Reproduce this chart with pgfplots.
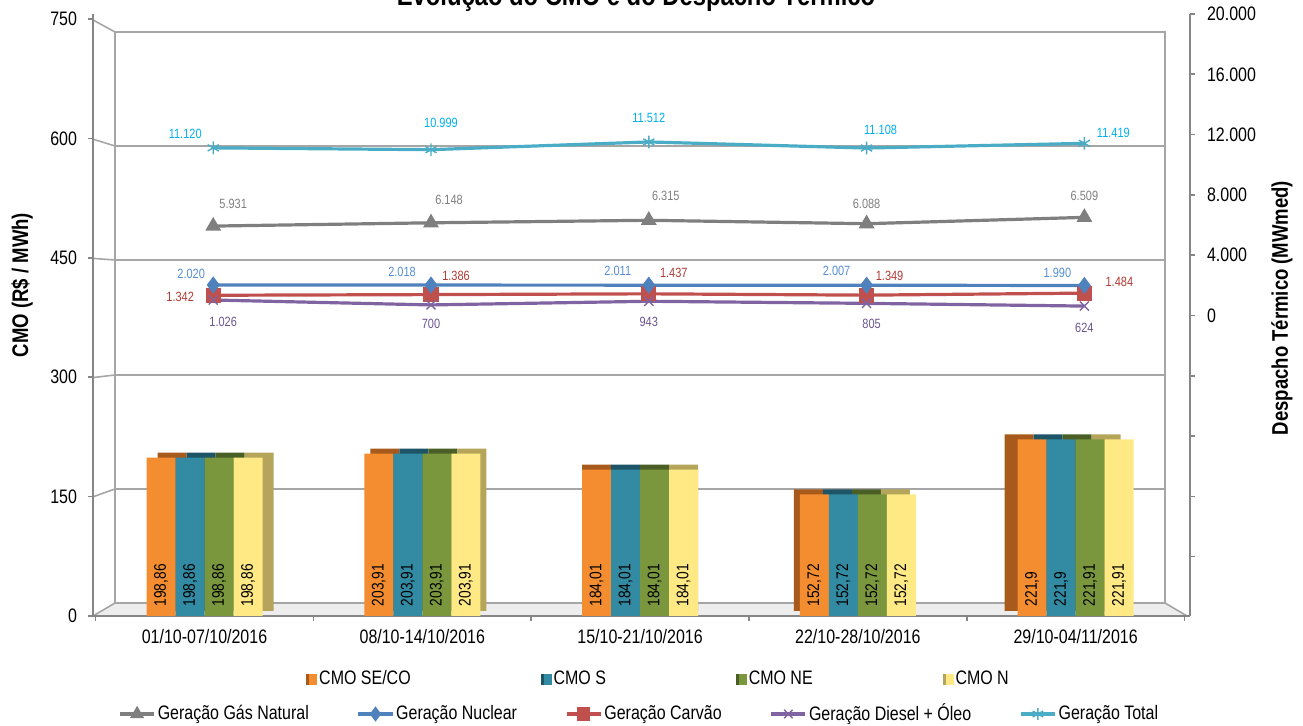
\documentclass[border=0pt]{standalone}
\usepackage{pgfplots}
\pgfplotsset{compat=1.18}
\usepackage{pgfplotstable}
\usepackage{fontspec}
\setmainfont{Liberation Sans}[FakeStretch=0.82]

\definecolor{orA}{HTML}{F38D30}\definecolor{orD}{HTML}{A85A1C}
\definecolor{blA}{HTML}{328AA3}\definecolor{blD}{HTML}{1D5566}
\definecolor{grA}{HTML}{7A973E}\definecolor{grD}{HTML}{4A5F25}
\definecolor{yeA}{HTML}{FFE984}\definecolor{yeD}{HTML}{B5A55A}
\definecolor{cTot}{HTML}{4BACC6}\definecolor{cTotL}{HTML}{00B0F0}
\definecolor{cGas}{HTML}{7F7F7F}
\definecolor{cNuc}{HTML}{4F81BD}\definecolor{cNucL}{HTML}{558ED5}
\definecolor{cCar}{HTML}{C0504D}\definecolor{cCarL}{HTML}{B03A35}
\definecolor{cDie}{HTML}{8064A2}\definecolor{cDieL}{HTML}{6A5590}
\definecolor{gridc}{HTML}{A6A6A6}\definecolor{axc}{HTML}{868686}\definecolor{floorc}{HTML}{EDEDED}

\pgfplotstableread{
x d y lbl
0 0.0505 198.86 198,86
1 0.0275 203.91 203,91
2 0 184.01 184,01
3 -0.0275 152.72 152,72
4 -0.06 221.9 221,9
}\seco
\pgfplotstableread{
x d y lbl
0 0.0505 198.86 198,86
1 0.0275 203.91 203,91
2 0 184.01 184,01
3 -0.0275 152.72 152,72
4 -0.06 221.9 221,9
}\cmos
\pgfplotstableread{
x d y lbl
0 0.0505 198.86 198,86
1 0.0275 203.91 203,91
2 0 184.01 184,01
3 -0.0275 152.72 152,72
4 -0.06 221.91 221,91
}\cmone
\pgfplotstableread{
x d y lbl
0 0.0505 198.86 198,86
1 0.0275 203.91 203,91
2 0 184.01 184,01
3 -0.0275 152.72 152,72
4 -0.06 221.91 221,91
}\cmon

\pgfplotstableread{
x y dx dy lbl
0.04 11120 -28 14 11.120
1.04 10999 10 27 10.999
2.04 11512 0 24 11.512
3.04 11108 14 18 11.108
4.04 11419 29 10 11.419
}\tot
\pgfplotstableread{
x y dx dy lbl
0.04 5931 20 22 5.931
1.04 6148 18 23 6.148
2.04 6315 17 24 6.315
3.04 6088 0 20 6.088
4.04 6509 0 21 6.509
}\gas
\pgfplotstableread{
x y dx dy lbl
0.04 2020 -22 11 2.020
1.04 2018 -29 13 2.018
2.04 2011 -31 14 2.011
3.04 2007 -30 14 2.007
4.04 1990 -27 13 1.990
}\nuc
\pgfplotstableread{
x y dx dy lbl
0.04 1342 -33 -2 1.342
1.04 1386 25 19 1.386
2.04 1437 25 21 1.437
3.04 1349 23 19 1.349
4.04 1484 35 11 1.484
}\car
\pgfplotstableread{
x y dx dy lbl
0.04 1026 10 -22 1.026
1.04 700 0 -19 700
2.04 943 0 -21 943
3.04 805 5 -21 805
4.04 624 0 -22 624
}\die

\newcommand{\tickfont}{\fontsize{9.75}{11}\selectfont}
\newcommand{\barfont}{\fontsize{8.4}{10}\selectfont}
\newcommand{\lblfont}{\fontsize{6.7}{8}\selectfont}

\pgfplotsset{
  frontbar/.style n args={2}{ybar, bar width=14.5pt, bar shift=#1, draw=none,
    fill=#2, forget plot,
    nodes near coords, point meta=explicit symbolic,
    visualization depends on=y \as \yv,
    every node near coord/.append style={font=\barfont, text=black, anchor=west,
      xshift={#1}, yshift={4.5pt-\yv*0.39733pt}, rotate=90, inner sep=0pt}},
  depthbar/.style n args={2}{ybar, bar width=14.5pt, bar shift=#1, draw=none,
    fill=#2, yshift=2.5pt, forget plot},
  lineplot/.style n args={2}{#1, line width=1.6pt, forget plot,
    nodes near coords, point meta=explicit symbolic,
    visualization depends on={\thisrow{dx} \as \dx},
    visualization depends on={\thisrow{dy} \as \dy},
    every node near coord/.append style={font=\lblfont, text=#2, anchor=center,
      xshift={\dx*0.5pt}, yshift={\dy*0.5pt}, inner sep=0pt}},
}

\begin{document}
\begin{tikzpicture}
\begin{scope}[x=0.5pt,y=-0.5pt,shift={(-93,-616)}]
  \fill[floorc] (93,616) -- (115,603) -- (1165,603) -- (1187,616) -- cycle;
  \draw[gridc, line width=0.8pt] (115,603) -- (115,32) -- (1165,32) -- (1165,603) -- (1187,616);
  \foreach \f/\b in {20/32,139.2/146,258.4/260,377.6/375,496.8/489,616/603} {
    \draw[gridc, line width=0.8pt] (93,\f) -- (115,\b) -- (1165,\b);
  }
\end{scope}

\begin{axis}[
  at={(0pt,0pt)}, anchor=south west,
  width=548.5pt, height=301pt, scale only axis,
  xmin=-0.512, xmax=4.525, ymin=0, ymax=756.3,
  axis y line*=left, axis x line*=bottom,
  axis line style={draw=axc, line width=0.8pt, -},
  tick style={draw=axc, line width=0.8pt},
  tick align=outside, major tick length=2.5pt,
  ytick={0,150,300,450,600,750},
  xtick={-0.5,0.5,1.5,2.5,3.5,4.5}, xticklabels={},
  extra x ticks={0,1,2,3,4},
  extra x tick labels={01/10-07/10/2016,08/10-14/10/2016,15/10-21/10/2016,22/10-28/10/2016,29/10-04/11/2016},
  extra x tick style={major tick length=0pt},
  xticklabel style={font=\tickfont, text=black, yshift=-3pt},
  yticklabel style={font=\tickfont, text=black, xshift=-2pt},
  /pgf/number format/assume math mode=true,
  legend style={at={(axis description cs:0.1942,-0.1047)}, anchor=west,
    draw=none, fill=none, font=\tickfont, inner sep=0pt,
    nodes={inner sep=1pt},
    /tikz/every even column/.append style={column sep=64pt}},
  legend columns=4,
]
\addplot[depthbar={-21.75pt}{orD}] table[x expr=\thisrow{x}+\thisrow{d}, y=y]{\seco};
\addplot[depthbar={-7.25pt}{blD}] table[x expr=\thisrow{x}+\thisrow{d}, y=y]{\cmos};
\addplot[depthbar={7.25pt}{grD}] table[x expr=\thisrow{x}+\thisrow{d}, y=y]{\cmone};
\addplot[depthbar={21.75pt}{yeD}] table[x expr=\thisrow{x}+\thisrow{d}, y=y]{\cmon};
\addplot[frontbar={-21.75pt}{orA}] table[x=x, y=y, meta=lbl]{\seco};
\addplot[frontbar={-7.25pt}{blA}] table[x=x, y=y, meta=lbl]{\cmos};
\addplot[frontbar={7.25pt}{grA}] table[x=x, y=y, meta=lbl]{\cmone};
\addplot[frontbar={21.75pt}{yeA}] table[x=x, y=y, meta=lbl]{\cmon};
\addlegendimage{legend image code/.code={\fill[orA] (0pt,-2.5pt) rectangle (5pt,2.5pt); \fill[orD] (0pt,-2.5pt) rectangle (1pt,2.5pt);}}
\addlegendentry{CMO SE/CO}
\addlegendimage{legend image code/.code={\fill[blA] (0pt,-2.5pt) rectangle (5pt,2.5pt); \fill[blD] (0pt,-2.5pt) rectangle (1pt,2.5pt);}}
\addlegendentry{CMO S}
\addlegendimage{legend image code/.code={\fill[grA] (0pt,-2.5pt) rectangle (5pt,2.5pt); \fill[grD] (0pt,-2.5pt) rectangle (1pt,2.5pt);}}
\addlegendentry{CMO NE}
\addlegendimage{legend image code/.code={\fill[yeA] (0pt,-2.5pt) rectangle (5pt,2.5pt); \fill[yeD] (0pt,-2.5pt) rectangle (1pt,2.5pt);}}
\addlegendentry{CMO N}
\end{axis}

\begin{axis}[
  at={(0pt,0pt)}, anchor=south west,
  width=548.5pt, height=301pt, scale only axis,
  xmin=-0.512, xmax=4.525, ymin=-19934, ymax=20000,
  axis y line*=right, axis x line=none,
  axis line style={draw=axc, line width=0.8pt, -},
  tick style={draw=axc, line width=0.8pt},
  tick align=outside, major tick length=2.5pt,
  ytick={-16000,-12000,-8000,-4000,0,4000,8000,12000,16000,20000},
  yticklabels={,,,,0,4.000,8.000,12.000,16.000,20.000},
  yticklabel style={font=\tickfont, text=black, xshift=2.5pt},
  /pgf/number format/assume math mode=true,
  legend style={at={(axis description cs:0.0228,-0.1628)}, anchor=west,
    draw=none, fill=none, font=\tickfont, inner sep=0pt,
    nodes={inner sep=1pt},
    /tikz/every even column/.append style={column sep=23pt}},
  legend columns=5,
]
\addplot[lineplot={cTot, mark=asterisk, mark size=3.2pt, mark options={line width=0.7pt}}{cTotL}] table[x=x,y=y,meta=lbl]{\tot};
\addplot[lineplot={cGas, mark=triangle*, mark size=3pt}{cGas}] table[x=x,y=y,meta=lbl]{\gas};
\addplot[lineplot={cCar, mark=square*, mark size=3pt}{cCarL}] table[x=x,y=y,meta=lbl]{\car};
\addplot[lineplot={cDie, mark=x, mark size=3.2pt, mark options={line width=0.7pt}}{cDieL}] table[x=x,y=y,meta=lbl]{\die};
\addplot[lineplot={cNuc, mark=diamond*, mark size=3pt}{cNucL}] table[x=x,y=y,meta=lbl]{\nuc};
\addlegendimage{cGas, line width=1.6pt, mark=triangle*, mark size=2.5pt}
\addlegendentry{Geração Gás Natural}
\addlegendimage{cNuc, line width=1.6pt, mark=diamond*, mark size=2.5pt}
\addlegendentry{Geração Nuclear}
\addlegendimage{cCar, line width=1.6pt, mark=square*, mark size=2.5pt}
\addlegendentry{Geração Carvão}
\addlegendimage{cDie, line width=1.6pt, mark=x, mark size=3pt, mark options={line width=0.7pt}}
\addlegendentry{Geração Diesel + Óleo}
\addlegendimage{cTot, line width=1.6pt, mark=asterisk, mark size=3pt, mark options={line width=0.7pt}}
\addlegendentry{Geração Total}
\end{axis}

\begin{scope}[x=0.5pt,y=-0.5pt,shift={(-93,-616)}]
  \node[anchor=base, font=\fontsize{14.5}{16}\selectfont\bfseries] at (636,6) {Evolução do CMO e do Despacho Térmico};
  \node[rotate=90, font=\fontsize{11.3}{13}\selectfont\bfseries] at (22,285) {CMO (R\$ / MWh)};
  \node[rotate=90, font=\fontsize{11.3}{13}\selectfont\bfseries] at (1282,308) {Despacho Térmico (MWmed)};
  \pgfresetboundingbox
  \path[use as bounding box] (0,0) rectangle (1303,726);
\end{scope}
\end{tikzpicture}
\end{document}
